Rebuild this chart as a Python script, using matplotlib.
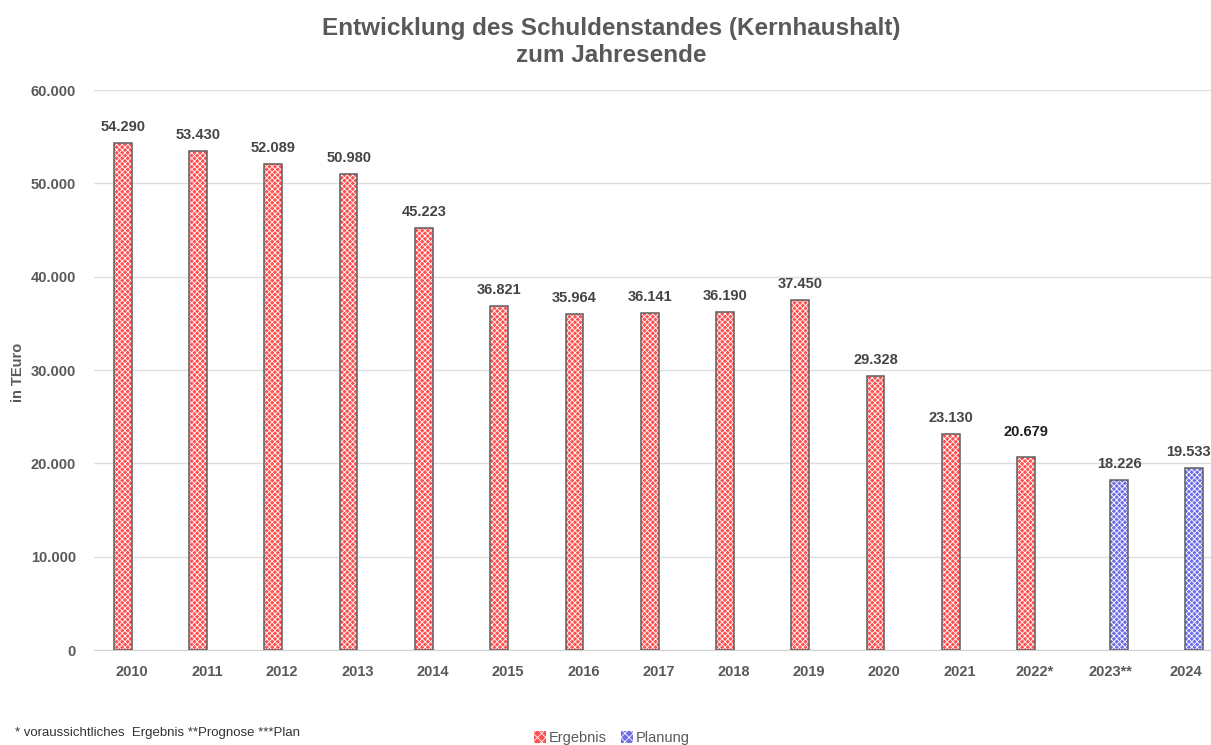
import numpy as np
import matplotlib.pyplot as plt
from matplotlib.patches import Patch

plt.rcParams['font.family'] = ['Liberation Sans', 'DejaVu Sans']
plt.rcParams['hatch.linewidth'] = 0.6

years = ["2010", "2011", "2012", "2013", "2014", "2015", "2016", "2017",
         "2018", "2019", "2020", "2021", "2022*", "2023**", "2024"]
ergebnis = [54290, 53430, 52089, 50980, 45223, 36821, 35964, 36141,
            36190, 37450, 29328, 23130, 20679, None, None]
planung = [None] * 13 + [18226, 19533]

GRAY = "#595959"
RED = "#ff4f4f"
BLUE = "#6e6ee8"
W = 0.235


def fmt(v):
    return f"{v:,}".replace(",", ".")


fig = plt.figure(figsize=(12.11, 7.45), dpi=100)
ax = fig.add_axes([94 / 1211, 95 / 745, 1117 / 1211, 560 / 745])

x = np.arange(len(years))

# ---------------------------
# bars: hatched fill, then outline
# ---------------------------
for vals, off, col in [(ergebnis, -W / 2, RED), (planung, W / 2, BLUE)]:
    xi = [xx + off for xx, v in zip(x, vals) if v is not None]
    vi = [v for v in vals if v is not None]
    ax.bar(xi, vi, W, color=col, edgecolor="white", hatch="xxxxxx", lw=0, zorder=2)
    ax.bar(xi, vi, W, fill=False, edgecolor="#5e5e5e", lw=1.1, zorder=3)
    for xx, v in zip(xi, vi):
        bold_dark = v == 20679
        dx = -4 if xx > 13.5 else 0  # keep last label inside the figure
        ax.annotate(fmt(v), (xx, v), xytext=(dx, 18 if bold_dark else 11.5),
                    textcoords="offset points", ha="center", va="center",
                    fontsize=10.5, fontweight="bold",
                    color="#1e1e1e" if bold_dark else "#444444")

ax.set_xlim(-0.5, 14.34)
ax.set_ylim(0, 60000)
ax.set_yticks(range(0, 60001, 10000))
ax.set_yticklabels([fmt(v) for v in range(0, 60001, 10000)])
ax.set_xticks(x)
ax.set_xticklabels(years)
for lab in ax.get_xticklabels() + ax.get_yticklabels():
    lab.set_fontweight("bold")
    lab.set_fontsize(10.5)
    lab.set_color(GRAY)
ax.tick_params(length=0, pad=11)
ax.tick_params(axis="y", pad=13)

ax.grid(axis="y", color="#dedede", lw=1, zorder=0)
for s in ["top", "right", "left"]:
    ax.spines[s].set_visible(False)
ax.spines["bottom"].set_color("#d0d0d0")

fig.text(18 / 1211, 1 - 372 / 745, "in TEuro", rotation=90, ha="center",
         va="center", fontsize=10.5, fontweight="bold", color=GRAY)

fig.text(611 / 1211, 1 - 42 / 745,
         "Entwicklung des Schuldenstandes (Kernhaushalt)\nzum Jahresende",
         ha="center", va="center", fontsize=17.5, fontweight="bold",
         color=GRAY, linespacing=1.2)

fig.text(15 / 1211, 1 - 733 / 745,
         "* voraussichtliches  Ergebnis **Prognose ***Plan",
         ha="left", va="center", fontsize=9.5, color="#333333")

handles = [Patch(facecolor=RED, edgecolor="white", hatch="xxxx", lw=0),
           Patch(facecolor=BLUE, edgecolor="white", hatch="xxxx", lw=0)]
fig.legend(handles, ["Ergebnis", "Planung"], loc="center",
           bbox_to_anchor=(612 / 1211, 1 - 738 / 745), ncol=2, frameon=False,
           fontsize=10.5, handlelength=0.8, handleheight=0.8, handletextpad=0.2,
           columnspacing=1.0, labelcolor=GRAY)

fig.savefig("out.png", dpi=100)
